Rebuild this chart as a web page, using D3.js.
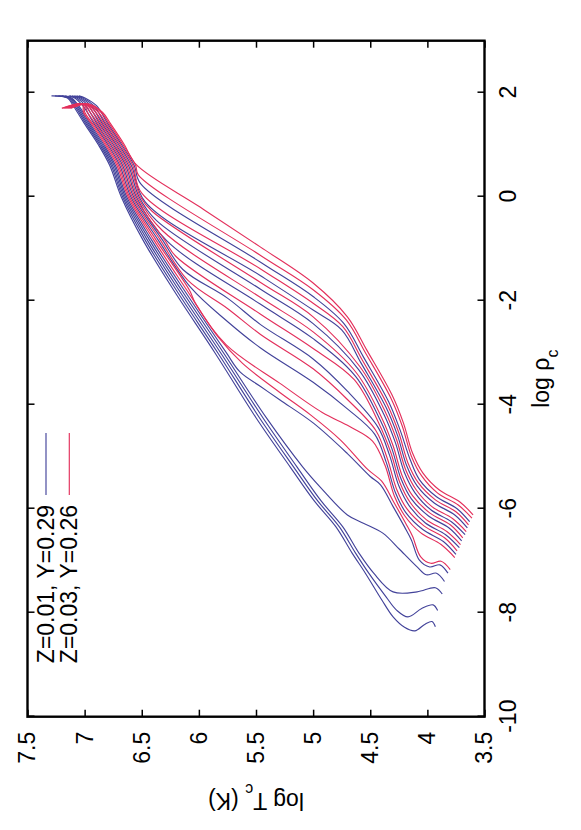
<!DOCTYPE html>
<html><head><meta charset="utf-8">
<script src="https://cdn.jsdelivr.net/npm/d3@7"></script>
<style>body{margin:0;background:#fff}svg{display:block}</style>
</head><body>
<svg id="c" width="581" height="830"></svg>
<script>
// ---- data (log rho_c, log T_c) ----
const rhoTicks = [-10, -8, -6, -4, -2, 0, 2];
const tTicks = [3.5, 4, 4.5, 5, 5.5, 6, 6.5, 7, 7.5];
const legendLabels = ["Z=0.01, Y=0.29", "Z=0.03, Y=0.26"];

const b1 = [[-8.27,3.93],[-8.17,3.96],[-8.22,4.02],[-8.35,4.11],[-8.28,4.20],[-8.08,4.30],[-7.75,4.40],[-7.25,4.54],[-6.85,4.66],[-6.35,4.80],[-5.85,4.99],[-5.2,5.20],[-4.25,5.50],[-3.0,5.86],[-1.8,6.22],[-0.83,6.49],[0,6.68],[0.6,6.78],[1.0,6.88],[1.4,7.00],[1.75,7.10],[1.90,7.15],[1.94,7.29]];
const b2 = [[-7.96,3.91],[-7.85,3.95],[-7.92,4.05],[-8.08,4.17],[-7.95,4.27],[-7.70,4.36],[-7.25,4.51],[-6.85,4.63],[-6.35,4.77],[-5.85,4.96],[-5.2,5.17],[-4.25,5.47],[-3.0,5.835],[-1.8,6.197],[-0.83,6.471],[0,6.668],[0.6,6.767],[1.0,6.868],[1.4,6.988],[1.75,7.088],[1.90,7.141],[1.94,7.26]];
const b3 = [[-7.64,3.87],[-7.52,3.93],[-7.60,4.09],[-7.60,4.30],[-7.24,4.47],[-6.85,4.60],[-6.35,4.74],[-5.85,4.93],[-5.2,5.14],[-4.25,5.44],[-3.0,5.81],[-1.8,6.174],[-0.83,6.452],[0,6.656],[0.6,6.755],[1.0,6.856],[1.4,6.976],[1.75,7.076],[1.90,7.132],[1.94,7.23]];
const b4 = [[-7.40,3.85],[-7.24,3.92],[-7.27,4.01],[-7.12,4.09],[-6.79,4.24],[-6.47,4.39],[-6.28,4.56],[-6.12,4.70],[-5.58,4.94],[-5.2,5.09],[-4.25,5.41],[-3.0,5.785],[-1.8,6.151],[-0.83,6.433],[0,6.644],[0.6,6.742],[1.0,6.844],[1.4,6.964],[1.75,7.064],[1.90,7.123],[1.94,7.20]];
const b5 = [[-7.24,3.82],[-7.08,3.89],[-7.12,3.98],[-6.99,4.07],[-6.60,4.14],[-6.35,4.20],[-5.96,4.30],[-5.54,4.41],[-5.38,4.50],[-4.94,4.70],[-4.35,5.00],[-3.91,5.29],[-3.65,5.46],[-3.37,5.64],[-3.0,5.76],[-1.8,6.128],[-0.83,6.414],[0,6.632],[0.6,6.73],[1.0,6.832],[1.4,6.952],[1.75,7.052],[1.90,7.114],[1.94,7.17]];
const b6 = [[-6.88,3.75],[-6.63,3.86],[-6.40,4.04],[-6.07,4.19],[-5.69,4.28],[-5.11,4.36],[-4.57,4.46],[-4.08,4.70],[-3.57,5.00],[-2.91,5.46],[-2.4,5.75],[-1.75,6.07],[-0.83,6.357],[0,6.596],[0.6,6.692],[1.0,6.796],[1.4,6.916],[1.75,7.016],[1.90,7.087],[1.94,7.14]];
const b7 = [[-6.75,3.72],[-6.50,3.84],[-6.27,4.02],[-5.94,4.16],[-5.56,4.25],[-4.98,4.33],[-4.44,4.43],[-3.74,4.70],[-3.12,5.00],[-2.46,5.46],[-1.95,5.75],[-1.4,6.14],[-0.83,6.319],[0,6.572],[0.6,6.667],[1.0,6.772],[1.4,6.892],[1.75,6.992],[1.90,7.069],[1.94,7.13]];
const b8 = [[-6.62,3.70],[-6.37,3.81],[-6.14,3.99],[-5.81,4.14],[-5.43,4.23],[-4.85,4.31],[-4.31,4.41],[-3.45,4.63],[-2.73,5.00],[-2.07,5.46],[-0.85,6.28],[0,6.548],[0.6,6.641],[1.0,6.748],[1.4,6.868],[1.75,6.968],[1.90,7.051],[1.94,7.11]];
const b9 = [[-6.50,3.67],[-6.25,3.79],[-6.02,3.97],[-5.69,4.11],[-5.31,4.20],[-4.73,4.28],[-4.19,4.38],[-3.33,4.60],[-2.44,5.00],[-1.78,5.46],[-0.46,6.37],[0,6.524],[0.6,6.616],[1.0,6.724],[1.4,6.844],[1.75,6.944],[1.90,7.033],[1.94,7.09]];
const b10 = [[-6.37,3.65],[-6.12,3.76],[-5.89,3.94],[-5.56,4.09],[-5.18,4.18],[-4.60,4.26],[-4.06,4.36],[-3.20,4.58],[-2.56,4.75],[-2.18,5.00],[-1.52,5.46],[-0.1,6.47],[0.6,6.591],[1.0,6.70],[1.4,6.82],[1.75,6.92],[1.90,7.015],[1.94,7.07]];
const b11 = [[-6.25,3.63],[-6.00,3.74],[-5.77,3.92],[-5.44,4.07],[-5.06,4.15],[-4.48,4.24],[-3.94,4.34],[-3.08,4.56],[-2.44,4.73],[-1.92,5.00],[-1.26,5.46],[0.25,6.51],[0.6,6.566],[1.0,6.676],[1.4,6.796],[1.75,6.896],[1.90,6.997],[1.94,7.05]];

const r1 = [[-7.17,3.80],[-7.01,3.88],[-7.05,3.97],[-6.92,4.06],[-6.53,4.13],[-6.28,4.19],[-5.89,4.29],[-5.47,4.40],[-5.25,4.52],[-4.68,4.76],[-4.2,5.02],[-3.75,5.30],[-3.2,5.62],[-2.7,5.83],[-1.8,6.105],[-0.83,6.395],[0,6.62],[0.6,6.717],[1.0,6.82],[1.4,6.94],[1.62,7.01],[1.78,7.02],[1.70,7.20]];
const r2 = [[-6.94,3.76],[-6.69,3.88],[-6.46,4.06],[-6.13,4.20],[-5.75,4.29],[-5.17,4.37],[-4.70,4.48],[-4.42,4.68],[-4.15,4.92],[-3.59,5.29],[-2.85,5.76],[-2.05,6.03],[-1.8,6.082],[-0.83,6.376],[0,6.608],[0.6,6.704],[1.0,6.808],[1.4,6.928],[1.62,6.998],[1.78,7.016],[1.70,7.195]];
const r3 = [[-6.81,3.74],[-6.56,3.85],[-6.33,4.03],[-6.00,4.18],[-5.62,4.27],[-5.04,4.35],[-4.50,4.45],[-3.90,4.70],[-3.31,5.00],[-2.65,5.46],[-2.15,5.75],[-1.6,6.10],[-0.83,6.338],[0,6.584],[0.6,6.679],[1.0,6.784],[1.4,6.904],[1.62,6.974],[1.78,7.008],[1.70,7.18]];
const r4 = [[-6.69,3.71],[-6.44,3.83],[-6.21,4.01],[-5.88,4.15],[-5.50,4.24],[-4.92,4.32],[-4.38,4.42],[-3.52,4.64],[-2.92,5.00],[-2.26,5.46],[-1.15,6.20],[-0.83,6.30],[0,6.56],[0.6,6.654],[1.0,6.76],[1.4,6.88],[1.62,6.95],[1.78,7.0],[1.70,7.17]];
const r5 = [[-6.56,3.69],[-6.31,3.80],[-6.08,3.98],[-5.75,4.13],[-5.37,4.22],[-4.79,4.30],[-4.25,4.40],[-3.39,4.62],[-2.60,5.00],[-1.94,5.46],[-0.65,6.32],[0,6.536],[0.6,6.629],[1.0,6.736],[1.4,6.856],[1.62,6.926],[1.78,6.992],[1.70,7.16]];
const r6 = [[-6.44,3.66],[-6.19,3.78],[-5.96,3.96],[-5.63,4.10],[-5.25,4.19],[-4.67,4.27],[-4.13,4.37],[-3.27,4.59],[-2.31,5.00],[-1.65,5.46],[-0.28,6.41],[0,6.512],[0.6,6.604],[1.0,6.712],[1.4,6.832],[1.62,6.902],[1.78,6.984],[1.70,7.15]];
const r7 = [[-6.31,3.64],[-6.06,3.75],[-5.83,3.93],[-5.50,4.08],[-5.12,4.17],[-4.54,4.25],[-4.00,4.35],[-3.14,4.57],[-2.50,4.74],[-2.05,5.00],[-1.39,5.46],[0.07,6.50],[0.6,6.578],[1.0,6.688],[1.4,6.808],[1.62,6.878],[1.78,6.976],[1.70,7.14]];
const r8 = [[-6.18,3.61],[-5.93,3.73],[-5.70,3.91],[-5.37,4.05],[-4.99,4.14],[-4.41,4.22],[-3.87,4.32],[-3.01,4.54],[-2.37,4.71],[-1.79,5.00],[-1.13,5.46],[0.42,6.53],[0.6,6.553],[1.0,6.664],[1.4,6.784],[1.62,6.854],[1.78,6.968],[1.70,7.13]];
const r9 = [[-6.12,3.60],[-5.87,3.715],[-5.64,3.895],[-5.31,4.04],[-4.93,4.13],[-4.35,4.21],[-3.81,4.31],[-2.95,4.53],[-2.31,4.70],[-1.66,5.00],[-0.97,5.46],[-0.20,5.99],[0.62,6.55],[1.0,6.652],[1.4,6.772],[1.62,6.842],[1.78,6.964],[1.70,7.12]];

const blueTracks = [b1,b2,b3,b4,b5,b6,b7,b8,b9,b10,b11];
const redTracks = [r1,r2,r3,r4,r5,r6,r7,r8,r9];

// ---- layout ----
const BLUE = "#43439a", RED = "#e3305c";
const FONT = "'Liberation Sans', Arial, Helvetica, sans-serif";
const W = 676, H = 457; // unrotated plot size
const ox = 27.5, oy = 716.7;

const x = d3.scaleLinear().domain([-10, 3]).range([0, W]);
const y = d3.scaleLinear().domain([3.5, 7.5]).range([H, 0]);

const svg = d3.select("#c");
svg.append("rect").attr("width",581).attr("height",830).attr("fill","#fff");
const g = svg.append("g").attr("transform", `translate(${ox},${oy}) rotate(-90)`);

const line = d3.line().x(d => x(d[0])).y(d => y(d[1])).curve(d3.curveCatmullRom.alpha(0.5));

g.append("clipPath").attr("id","pc").append("rect").attr("width",W).attr("height",H);
const plot = g.append("g").attr("clip-path","url(#pc)");
plot.selectAll("path.b").data(blueTracks).join("path").attr("class","b")
  .attr("d", line).attr("fill","none").attr("stroke",BLUE).attr("stroke-width",1.15);
plot.selectAll("path.r").data(redTracks).join("path").attr("class","r")
  .attr("d", line).attr("fill","none").attr("stroke",RED).attr("stroke-width",1.15);

// axes
const fmt = d => String(d);
function styleAxis(sel, labels){
  sel.select(".domain").remove();
  sel.selectAll(".tick line").attr("stroke","#000").attr("stroke-width",1.5);
  sel.selectAll(".tick text").attr("fill","#000").style("font-family",FONT).style("font-size","23px");
  if(!labels) sel.selectAll(".tick text").remove();
}
g.append("g").attr("transform",`translate(0,${H})`)
  .call(d3.axisBottom(x).tickValues(rhoTicks).tickFormat(fmt).tickSize(-7).tickPadding(15))
  .call(s=>styleAxis(s,true));
g.append("g")
  .call(d3.axisTop(x).tickValues(rhoTicks).tickSize(-7))
  .call(s=>styleAxis(s,false));
g.append("g")
  .call(d3.axisLeft(y).tickValues(tTicks).tickFormat(fmt).tickSize(-7).tickPadding(15))
  .call(s=>styleAxis(s,true));
g.append("g").attr("transform",`translate(${W},0)`)
  .call(d3.axisRight(y).tickValues(tTicks).tickSize(-7))
  .call(s=>styleAxis(s,false));

g.append("rect").attr("width",W).attr("height",H).attr("fill","none")
  .attr("stroke","#000").attr("stroke-width",2.4);

// axis titles
const xt = g.append("text").attr("x",W/2).attr("y",H+64).attr("text-anchor","middle")
  .style("font-family",FONT).style("font-size","23px").attr("fill","#000");
xt.append("tspan").text("log ρ");
xt.append("tspan").attr("baseline-shift","sub").style("font-size","16px").text("c");

const yt = g.append("text").attr("transform",`translate(-76,${H/2}) rotate(-90)`).attr("text-anchor","middle")
  .style("font-family",FONT).style("font-size","23px").attr("fill","#000");
yt.append("tspan").text("log T");
yt.append("tspan").attr("baseline-shift","sub").style("font-size","16px").text("c");
yt.append("tspan").text(" (K)");

// legend
const legColors = [BLUE, RED];
const leg = g.append("g");
legendLabels.forEach((t,i)=>{
  const v = 18.5 + i*23.3;
  leg.append("line").attr("x1",221.7).attr("x2",283.7).attr("y1",v).attr("y2",v)
    .attr("stroke",legColors[i]).attr("stroke-width",1.15);
  leg.append("text").attr("x",211.7).attr("y",v).attr("dy","0.35em").attr("text-anchor","end")
    .style("font-family",FONT).style("font-size","23px").attr("fill","#000").text(t);
});
</script>
</body></html>
